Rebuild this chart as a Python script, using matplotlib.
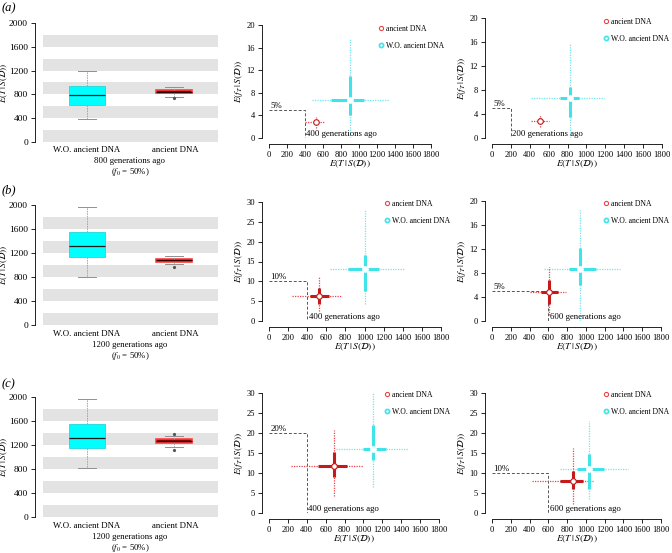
import matplotlib
matplotlib.use("Agg")
import matplotlib.pyplot as plt
from matplotlib.lines import Line2D

plt.rcParams['font.family'] = ['Liberation Serif', 'DejaVu Serif']
plt.rcParams['mathtext.fontset'] = 'stix'

W, H = 672, 553

# ---------------- data ----------------
box_labels = ["W.O. ancient DNA", "ancient DNA"]
box_titles = ["800 generations ago", "1200 generations ago", "1200 generations ago"]
panel_tags = ["(a)", "(b)", "(c)"]
# [whislo, q1, med, q3, whishi]
box_wo = [[390, 627, 790, 945, 1195],
          [805, 1140, 1311, 1545, 1965],
          [810, 1145, 1313, 1550, 1965]]
box_anc = [[758, 820, 848, 875, 918],
           [1011, 1057, 1078, 1098, 1150],
           [1173, 1240, 1265, 1293, 1350]]
box_anc_fliers = [[740], [972], [1117, 1380]]
box_yticks = [0, 400, 800, 1200, 1600, 2000]
band_edges = [(0, 200), (400, 600), (800, 1000), (1200, 1400), (1600, 1800)]

# scatter panels: centre, thick range, dotted range
# order: (a-mid, a-right, b-mid, b-right, c-mid, c-right)
anc_xy = [(520, 2.76), (511, 2.9), (527, 6.37), (612, 4.85), (688, 11.76), (859, 8.05)]
anc_x_thick = [(495, 548), (485, 540), (429, 631), (523, 707), (519, 826), (725, 965)]
anc_x_dot = [(401, 624), (415, 599), (237, 753), (407, 789), (236, 995), (424, 1078)]
anc_y_thick = [(2.4, 3.1), (2.5, 3.3), (4.4, 8.2), (2.9, 6.8), (8.9, 15.3), (5.9, 10.5)]
anc_y_dot = [(1.8, 3.8), (1.9, 3.84), (2.6, 11.3), (1.0, 9.0), (4.3, 20.7), (2.3, 16.2)]

wo_xy = [(902, 6.76), (821, 6.74), (1005, 13.0), (937, 8.75), (1101, 15.9), (1036, 11.0)]
wo_x_thick = [(690, 1058), (722, 916), (830, 1155), (824, 1107), (995, 1235), (902, 1192)]
wo_x_dot = [(475, 1329), (415, 1187), (638, 1413), (555, 1361), (713, 1472), (725, 1450)]
wo_y_thick = [(4.1, 11.0), (3.57, 8.47), (7.5, 16.6), (5.96, 12.1), (13.3, 21.95), (6.1, 14.7)]
wo_y_dot = [(0, 17.5), (0, 15.65), (4.3, 27.9), (0, 18.5), (6.6, 30.0), (3.6, 22.9)]

ref_f = [5, 5, 10, 5, 20, 10]
ref_t = [400, 200, 400, 600, 400, 600]
ref_text = ["5%", "5%", "10%", "5%", "20%", "10%"]
ymax = [20, 20, 30, 20, 30, 30]
xticks = [0, 200, 400, 600, 800, 1000, 1200, 1400, 1600, 1800]

# ---------------- layout (pixels) ----------------
box_rect = [(43, 218, 23, 142), (43, 218, 205, 325), (43, 218, 397, 517)]
sc_rect = [(269, 431, 25, 138), (492, 662, 18, 138),
           (269, 441, 202, 321), (492, 661, 201, 321),
           (269, 439, 393, 513), (492, 661, 393, 513)]
leg_pos = [(379, 25), (604, 18), (385, 200), (604, 200), (385, 391), (604, 391)]
tag_y = [8, 190, 384]
box_lab_y = [150, 334, 526]

RED_THICK = "#c41a1a"
RED_DOT = "#e8474a"
CY_THICK = "#3fe3e8"
CY_DOT = "#6fe6ee"
GREY = "#e3e3e3"

fig = plt.figure(figsize=(W / 100, H / 100), dpi=100)


def add_ax(r):
    x0, x1, yt, yb = r
    return fig.add_axes([x0 / W, 1 - yb / H, (x1 - x0) / W, (yb - yt) / H])


def px(x, y):
    return x / W, 1 - y / H


ylab_T = r'$E(T\,|\,S(\mathcal{D}))$'
ylab_f = r'$E(f_T\,|\,S(\mathcal{D}))$'

# ---------------- box plots ----------------
for i in range(3):
    ax = add_ax(box_rect[i])
    for lo, hi in band_edges:
        ax.axhspan(lo, hi, color=GREY, lw=0, zorder=0)
    stats = []
    for vals, fl in ((box_wo[i], []), (box_anc[i], box_anc_fliers[i])):
        stats.append(dict(whislo=vals[0], q1=vals[1], med=vals[2], q3=vals[3],
                          whishi=vals[4], fliers=fl))
    bp = ax.bxp(stats, positions=[1, 2], widths=0.41, patch_artist=True,
                showfliers=True,
                whiskerprops=dict(color="#a0a0a0", lw=0.6, ls=(0, (2, 1))),
                capprops=dict(color="#909090", lw=0.7),
                medianprops=dict(color="#1a1a1a", lw=0.9),
                flierprops=dict(marker='o', markersize=1.3, markerfacecolor="#555555",
                                markeredgecolor="#555555"))
    bp['boxes'][0].set_facecolor("#00ffff")
    bp['boxes'][0].set_edgecolor("#20d8dc")
    bp['boxes'][0].set_linewidth(0.6)
    bp['boxes'][1].set_facecolor("#8b0a0a")
    bp['boxes'][1].set_edgecolor("#ff4040")
    bp['boxes'][1].set_linewidth(1.2)
    bp['medians'][1].set_color("#300000")
    ax.set_xlim(0.5, 2.5)
    ax.set_ylim(0, 2000)
    ax.set_yticks(box_yticks)
    ax.set_xticks([1, 2])
    ax.set_xticklabels([])
    ax.tick_params(axis='x', length=0)
    ax.tick_params(axis='y', labelsize=6.8, length=3, width=0.6, pad=2)
    for s in ('top', 'right', 'bottom'):
        ax.spines[s].set_visible(False)
    ax.spines['left'].set_position(('outward', 5.8))
    ax.spines['left'].set_linewidth(0.6)
    ax.set_ylabel(ylab_T, fontsize=6.6)
    ax.yaxis.set_label_coords(10.5 / W, 1 - (box_rect[i][2] + box_rect[i][3]) / 2 / H,
                              transform=fig.transFigure)
    # category labels and description
    for k, lab in enumerate(box_labels):
        xx = [87, 175][k]
        fig.text(*px(xx, box_lab_y[i]), lab, fontsize=6.3, ha='center', va='center')
    fig.text(*px(130, box_lab_y[i] + 11), box_titles[i], fontsize=6.3, ha='center', va='center')
    fig.text(*px(130, box_lab_y[i] + 22), r'($f_0$ = 50%)', fontsize=6.3, ha='center', va='center')
    fig.text(*px(2, tag_y[i]), panel_tags[i], fontsize=9, style='italic', ha='left', va='center')

# ---------------- scatter / cross panels ----------------
for j in range(6):
    ax = add_ax(sc_rect[j])
    # reference lines
    ax.plot([0, ref_t[j], ref_t[j]], [ref_f[j], ref_f[j], 0], color="#555555",
            lw=0.7, ls=(0, (3, 2)), zorder=1)
    ax.text(15, ref_f[j], ref_text[j], fontsize=6.3, ha='left', va='bottom')
    ax.text(ref_t[j] + 15, 0, "%d generations ago" % ref_t[j], fontsize=6.3,
            ha='left', va='bottom')

    for (cx, cy), xt, xd, yt, yd, cthick, cdot in (
            (wo_xy[j], wo_x_thick[j], wo_x_dot[j], wo_y_thick[j], wo_y_dot[j], CY_THICK, CY_DOT),
            (anc_xy[j], anc_x_thick[j], anc_x_dot[j], anc_y_thick[j], anc_y_dot[j], RED_THICK, RED_DOT)):
        ax.hlines(cy, xd[0], xd[1], color=cdot, lw=0.9, ls=(0, (1, 1)), zorder=2)
        ax.vlines(cx, yd[0], yd[1], color=cdot, lw=0.9, ls=(0, (1, 1)), zorder=2)
        ax.hlines(cy, xt[0], xt[1], color=cthick, lw=2.2, zorder=3)
        ax.vlines(cx, yt[0], yt[1], color=cthick, lw=2.2, zorder=3)
        ax.plot([cx], [cy], marker='o', ms=4, mfc='white', mec=cthick if cthick != CY_THICK else "white",
                mew=0.8, zorder=4, ls='none')

    ax.set_xlim(0, 1800)
    ax.set_ylim(0, ymax[j])
    ax.set_xticks(xticks)
    if ymax[j] == 20:
        ax.set_yticks([0, 4, 8, 12, 16, 20])
    else:
        ax.set_yticks([0, 5, 10, 15, 20, 25, 30])
    ax.tick_params(labelsize=6.1, length=3, width=0.6, pad=2)
    for s in ('top', 'right'):
        ax.spines[s].set_visible(False)
    ax.spines['left'].set_position(('outward', 5.0))
    ax.spines['bottom'].set_position(('outward', 4.3))
    ax.spines['left'].set_linewidth(0.6)
    ax.spines['bottom'].set_linewidth(0.6)
    ax.set_xlabel(ylab_T, fontsize=6.8, labelpad=0)
    ax.set_ylabel(ylab_f, fontsize=6.8, labelpad=1)

    handles = [Line2D([], [], marker='o', ls='none', ms=3, mfc='white', mec=RED_DOT, mew=0.8),
               Line2D([], [], marker='o', ls='none', ms=3, mfc='white', mec=CY_THICK, mew=1.2)]
    lx, ly = leg_pos[j]
    fig.legend(handles, ["ancient DNA", "W.O. ancient DNA"], loc='upper left',
               bbox_to_anchor=px(lx, ly), frameon=False, fontsize=5.5,
               handlelength=0.6, handletextpad=0.3, labelspacing=1.2, borderpad=0,
               borderaxespad=0)

fig.savefig("out.png", dpi=100)
